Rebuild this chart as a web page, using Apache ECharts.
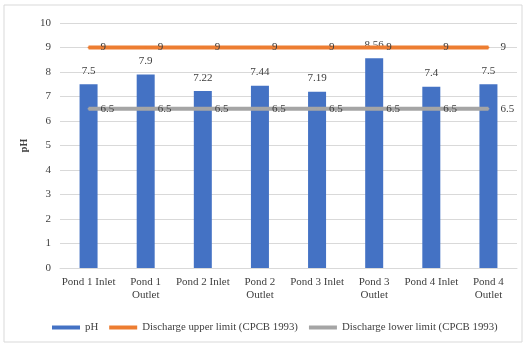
<!DOCTYPE html>
<html>
<head>
<meta charset="utf-8">
<script src="https://cdn.jsdelivr.net/npm/echarts@6/dist/echarts.min.js"></script>
<style>
  html, body { margin: 0; padding: 0; background: #fff; }
  #chart { width: 529px; height: 344px; }
</style>
</head>
<body>
<div id="chart"></div>
<script>
// Sampling points along the pond series
const categories = ['Pond 1 Inlet', 'Pond 1 Outlet', 'Pond 2 Inlet', 'Pond 2 Outlet',
                    'Pond 3 Inlet', 'Pond 3 Outlet', 'Pond 4 Inlet', 'Pond 4 Outlet'];
// Measured pH at each point
const phValues = [7.5, 7.9, 7.22, 7.44, 7.19, 8.56, 7.4, 7.5];
// CPCB 1993 discharge limits
const upperLimit = [9, 9, 9, 9, 9, 9, 9, 9];
const lowerLimit = [6.5, 6.5, 6.5, 6.5, 6.5, 6.5, 6.5, 6.5];
const seriesNames = ['pH', 'Discharge upper limit (CPCB 1993)', 'Discharge lower limit (CPCB 1993)'];

const FONT = 'Liberation Serif';
const TEXT = '#404040';

function limitSeries(name, data, color) {
  return {
    name: name,
    type: 'line',
    data: data,
    symbol: 'circle',
    symbolSize: 2,
    showSymbol: true,
    lineStyle: { color: color, width: 4 },
    itemStyle: { color: color },
    label: { show: true, position: 'right', distance: 11, fontFamily: FONT, fontSize: 11, color: TEXT }
  };
}

const chart = echarts.init(document.getElementById('chart'));
chart.setOption({
  animation: false,
  textStyle: { fontFamily: FONT },
  graphic: [{
    type: 'rect',
    shape: { x: 4, y: 5, width: 518, height: 337 },
    style: { fill: 'none', stroke: '#d9d9d9', lineWidth: 1 },
    silent: true
  }],
  grid: { left: 60, right: 12, top: 23, bottom: 76 },
  legend: {
    left: 47,
    top: 317,
    itemWidth: 28,
    itemHeight: 4,
    itemGap: 11,
    icon: 'rect',
    textStyle: { fontFamily: FONT, fontSize: 10.8, color: TEXT },
    data: seriesNames
  },
  xAxis: {
    type: 'category',
    data: categories,
    axisTick: { show: false },
    axisLine: { lineStyle: { color: '#d9d9d9' } },
    axisLabel: {
      interval: 0,
      fontFamily: FONT,
      fontSize: 11,
      color: TEXT,
      margin: 8,
      lineHeight: 13,
      formatter: v => v.replace(' Outlet', '\nOutlet')
    }
  },
  yAxis: {
    type: 'value',
    min: 0,
    max: 10,
    interval: 1,
    name: 'pH',
    nameLocation: 'middle',
    nameGap: 20,
    nameRotate: 90,
    nameTextStyle: { fontFamily: FONT, fontSize: 10, fontWeight: 'bold', color: TEXT },
    axisLine: { show: false },
    axisTick: { show: false },
    axisLabel: { fontFamily: FONT, fontSize: 11, color: TEXT, margin: 9 },
    splitLine: { lineStyle: { color: '#d9d9d9' } }
  },
  series: [
    {
      name: seriesNames[0],
      type: 'bar',
      data: phValues,
      barWidth: 18,
      itemStyle: { color: '#4472C4' },
      label: { show: true, position: 'top', distance: 8, fontFamily: FONT, fontSize: 11, color: TEXT }
    },
    limitSeries(seriesNames[1], upperLimit, '#ED7D31'),
    limitSeries(seriesNames[2], lowerLimit, '#A5A5A5')
  ]
});
</script>
</body>
</html>
